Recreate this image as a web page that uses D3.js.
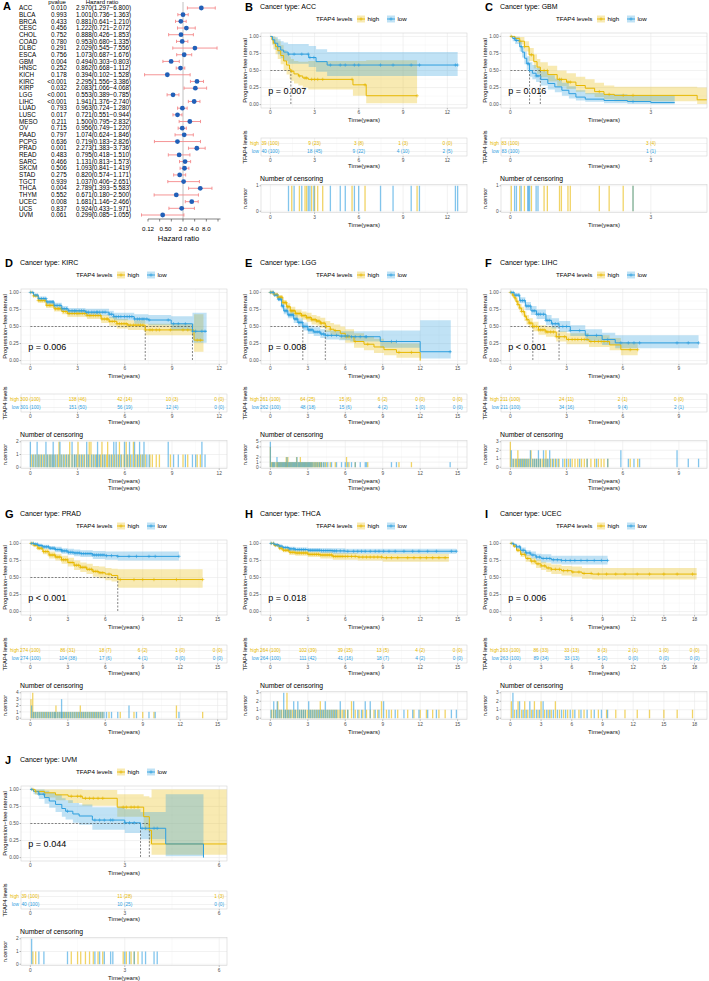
<!DOCTYPE html>
<html><head><meta charset="utf-8">
<script src="https://cdn.jsdelivr.net/npm/d3@7"></script>
<style>body{margin:0;background:#fff}</style>
</head><body>
<script>
// ---------------- DATA: Panel A (forest plot) ----------------
const forestCancers = ["ACC","BLCA","BRCA","CESC","CHOL","COAD","DLBC","ESCA","GBM","HNSC","KICH","KIRC","KIRP","LGG","LIHC","LUAD","LUSC","MESO","OV","PAAD","PCPG","PRAD","READ","SARC","SKCM","STAD","TGCT","THCA","THYM","UCEC","UCS","UVM"];
const forestP = ["0.010","0.993","0.433","0.456","0.752","0.780","0.291","0.756","0.004","0.252","0.178","<0.001","0.032","<0.001","<0.001","0.793","0.017","0.211","0.715","0.797","0.636","0.001","0.483","0.466","0.506","0.275","0.939","0.004","0.552","0.008","0.837","0.061"];
const forestHR = [2.970,1.001,0.881,1.222,0.888,0.953,2.029,1.073,0.494,0.862,0.394,2.295,2.083,0.553,1.941,0.963,0.721,1.500,0.956,1.074,0.719,2.273,0.795,1.131,1.093,0.820,1.037,2.789,0.671,1.681,0.924,0.299];
const forestLow = [1.297,0.736,0.641,0.721,0.426,0.680,0.545,0.687,0.303,0.668,0.102,1.556,1.066,0.389,1.376,0.724,0.551,0.795,0.749,0.624,0.183,1.383,0.418,0.813,0.841,0.574,0.406,1.393,0.180,1.146,0.433,0.085];
const forestHigh = [6.800,1.363,1.210,2.072,1.853,1.335,7.556,1.676,0.803,1.112,1.528,3.386,4.068,0.785,2.740,1.280,0.944,2.832,1.220,1.846,2.826,3.736,1.510,1.573,1.419,1.171,2.651,5.583,2.500,2.466,1.971,1.055];
const forestTicks = [0.125,0.25,0.5,1,2,4,8];
const forestTickLabels = ["0.12","0.50","2.0","4.0","8.0"];
const forestTickLabelAt = [0.125,0.354,1,2,4];

// ---------------- DATA: KM panels ----------------
// curve rows: [time, survival, lower CI, upper CI]; censor lists: one entry per censored subject
const accHigh = [[0,1,1,1],[0.1,0.95,0.88,1],[0.2,0.9,0.81,1],[0.35,0.85,0.74,0.97],[0.5,0.79,0.67,0.93],[0.7,0.72,0.59,0.87],[0.9,0.64,0.5,0.8],[1.1,0.58,0.44,0.75],[1.3,0.52,0.38,0.7],[1.39,0.49,0.35,0.67],[1.6,0.45,0.31,0.64],[1.9,0.42,0.28,0.63],[2.2,0.39,0.25,0.63],[2.57,0.37,0.22,0.64],[5.6,0.29,0.13,0.64],[6.5,0.13,0.02,0.65],[9.95,0.13,0.02,0.65]];
const accLow = [[0,1,1,1],[0.15,0.95,0.88,1],[0.3,0.9,0.8,0.99],[0.5,0.85,0.74,0.96],[0.7,0.8,0.68,0.93],[0.9,0.77,0.64,0.91],[1.2,0.74,0.6,0.89],[2.6,0.69,0.55,0.86],[3.1,0.63,0.48,0.81],[3.85,0.58,0.42,0.77],[12.7,0.58,0.42,0.77]];
const accHighCens = [1.45,1.97,2.35,2.46,2.8,3.0,3.21,3.55,5.54,6.42,9.95];
const accLowCens = [1.23,1.61,2.13,2.57,2.68,2.95,4.07,4.74,5.08,5.7,5.99,7.47,8.32,9.55,10.11,12.55,12.7];
const accRiskHigh = ["39 (100)","9 (23)","3 (8)","1 (3)","0 (0)"];
const accRiskLow = ["40 (100)","18 (45)","9 (22)","4 (10)","2 (5)"];

const gbmHigh = [[0,1,1,1],[0.1,0.97,0.94,1],[0.2,0.93,0.88,0.99],[0.3,0.85,0.78,0.93],[0.4,0.73,0.64,0.83],[0.5,0.63,0.53,0.74],[0.57,0.55,0.45,0.67],[0.64,0.5,0.4,0.62],[0.8,0.44,0.34,0.57],[1.0,0.37,0.27,0.5],[1.2,0.33,0.23,0.46],[1.4,0.28,0.19,0.41],[1.6,0.24,0.15,0.37],[1.8,0.19,0.11,0.32],[2.0,0.15,0.08,0.28],[2.22,0.135,0.05,0.26],[3.99,0.07,0.01,0.25],[4.3,0.07,0.01,0.25]];
const gbmLow = [[0,1,1,1],[0.05,0.97,0.93,1],[0.1,0.94,0.89,0.99],[0.2,0.85,0.78,0.93],[0.25,0.77,0.69,0.86],[0.3,0.68,0.59,0.78],[0.35,0.6,0.51,0.71],[0.41,0.5,0.41,0.62],[0.47,0.46,0.37,0.58],[0.55,0.42,0.33,0.54],[0.65,0.37,0.28,0.49],[0.8,0.31,0.22,0.43],[0.95,0.26,0.18,0.38],[1.1,0.21,0.13,0.32],[1.25,0.16,0.09,0.27],[1.4,0.11,0.06,0.21],[1.6,0.08,0.04,0.17],[2.0,0.06,0.02,0.15],[2.5,0.045,0.01,0.14],[3.0,0.03,0.005,0.14],[3.51,0.03,0.005,0.14]];
const gbmHighCens = [0.02,0.2,0.3,0.45,0.72,0.79,1.05,1.09,1.23,1.28,1.9,2.11,2.41,2.62];
const gbmLowCens = [0.09,0.13,0.23,0.37,0.39,0.41,0.55,0.59,2.62];
const gbmRiskHigh = ["83 (100)","3 (4)"];
const gbmRiskLow = ["83 (100)","1 (1)"];

const kircHigh = [[0,1,1,1],[0.2,0.95,0.93,0.97],[0.5,0.88,0.85,0.91],[1,0.81,0.77,0.85],[1.5,0.76,0.72,0.8],[2,0.72,0.68,0.77],[2.35,0.69,0.64,0.74],[3.6,0.66,0.61,0.71],[4.5,0.61,0.55,0.67],[5.0,0.576,0.51,0.64],[5.5,0.54,0.47,0.61],[6.2,0.52,0.45,0.59],[7.3,0.45,0.37,0.54],[10.4,0.3,0.13,0.68],[11.0,0.3,0.13,0.68]];
const kircLow = [[0,1,1,1],[0.2,0.96,0.94,0.98],[0.5,0.91,0.88,0.94],[1,0.86,0.82,0.89],[1.5,0.81,0.77,0.85],[2,0.76,0.72,0.8],[2.4,0.73,0.68,0.77],[3.5,0.71,0.66,0.76],[5.0,0.68,0.62,0.73],[5.3,0.645,0.59,0.7],[6.6,0.61,0.54,0.68],[7.5,0.595,0.52,0.67],[8.95,0.54,0.44,0.65],[10.3,0.43,0.26,0.7],[11.2,0.43,0.26,0.7]];
const kircHighCens = [0.05,0.2,0.35,0.5,0.62,0.75,0.9,1.05,1.2,1.3,1.45,1.6,1.75,1.82,1.82,1.95,2.1,2.25,2.4,2.5,2.5,2.65,2.8,2.95,3.03,3.03,3.15,3.3,3.45,3.6,3.74,3.74,3.85,3.85,4.0,4.15,4.3,4.45,4.55,4.55,4.7,4.85,4.91,4.91,5.05,5.2,5.35,5.5,5.66,5.66,5.8,5.95,6.09,6.09,6.2,6.35,6.55,6.55,6.7,6.85,7.0,7.15,7.3,7.6,7.75,8.0,8.2,8.9,9.7,10.0,10.6,10.8];
const kircLowCens = [0,0,0.15,0.3,0.43,0.43,0.55,0.7,0.85,0.99,0.99,1.1,1.25,1.38,1.45,1.45,1.55,1.7,1.88,1.88,2.0,2.15,2.3,2.45,2.65,2.65,2.8,2.9,3.1,3.25,3.4,3.58,3.58,3.7,3.9,4.05,4.2,4.27,4.27,4.4,4.6,4.75,5.0,5.15,5.3,5.3,5.45,5.45,5.6,5.75,5.98,5.98,6.15,6.3,6.3,6.45,6.62,6.62,6.8,6.94,6.94,7.1,7.22,7.22,7.4,7.55,8.76,8.76,9.1,9.4,9.85,10.3,10.5,10.9,10.9,11.1];
const kircRiskHigh = ["300 (100)","138 (46)","42 (14)","10 (3)","0 (0)"];
const kircRiskLow = ["301 (100)","151 (50)","56 (19)","12 (4)","0 (0)"];

const lggHigh = [[0,1,1,1],[0.3,0.97,0.95,0.99],[0.6,0.93,0.9,0.96],[1,0.85,0.81,0.89],[1.3,0.79,0.74,0.84],[1.6,0.73,0.68,0.79],[2,0.69,0.63,0.75],[2.5,0.66,0.6,0.72],[2.9,0.63,0.57,0.7],[3.3,0.6,0.53,0.67],[3.7,0.58,0.51,0.65],[4.0,0.55,0.48,0.63],[4.4,0.5,0.42,0.58],[4.8,0.46,0.38,0.55],[5.1,0.44,0.36,0.53],[5.6,0.4,0.31,0.5],[6.0,0.35,0.26,0.46],[6.7,0.28,0.19,0.4],[7.5,0.24,0.15,0.36],[8.3,0.2,0.11,0.32],[9.1,0.16,0.08,0.28],[10.1,0.12,0.04,0.25],[12.0,0,0,0]];
const lggLow = [[0,1,1,1],[0.3,0.96,0.94,0.98],[0.6,0.9,0.87,0.93],[0.9,0.8,0.76,0.84],[1.07,0.73,0.68,0.78],[1.4,0.67,0.62,0.72],[1.87,0.61,0.55,0.67],[2.2,0.56,0.5,0.62],[2.6,0.5,0.44,0.56],[3.0,0.45,0.39,0.51],[3.47,0.42,0.36,0.49],[4.0,0.39,0.33,0.46],[4.4,0.37,0.31,0.44],[5.5,0.36,0.3,0.43],[6.4,0.35,0.28,0.43],[8.8,0.28,0.19,0.44],[12.0,0.13,0.03,0.59],[14.45,0.13,0.03,0.59]];
const lggHighCens = [0,0,0,0,0.1,0.2,0.3,0.45,0.55,0.6,0.7,0.8,0.9,1.0,1.1,1.2,1.27,1.27,1.35,1.4,1.4,1.5,1.6,1.7,1.8,1.9,2.0,2.1,2.1,2.2,2.3,2.4,2.4,2.5,2.6,2.7,2.8,2.9,3.0,3.1,3.2,3.3,3.4,3.5,3.6,3.7,3.8,3.9,4.0,4.1,4.3,4.5,4.8,5.2,6.1,6.1,6.3,6.8,7.8,10.3,11.3];
const lggLowCens = [0,0,0,0,0,0.15,0.25,0.35,0.53,0.53,0.65,0.75,0.85,0.95,1.05,1.15,1.25,1.33,1.33,1.45,1.55,1.65,1.75,1.85,1.95,2.05,2.13,2.13,2.25,2.35,2.45,2.55,2.65,2.75,2.85,2.95,3.05,3.15,3.25,3.35,3.5,3.65,3.8,3.95,4.1,4.25,4.4,4.6,4.9,5.3,5.7,6.0,6.2,6.5,6.8,7.2,7.6,7.7,9.7,10.1,14.4];
const lggRiskHigh = ["261 (100)","64 (25)","15 (6)","6 (2)","0 (0)","0 (0)"];
const lggRiskLow = ["262 (100)","48 (18)","15 (6)","4 (2)","1 (0)","0 (0)"];

const lihcHigh = [[0,1,1,1],[0.1,0.96,0.93,0.99],[0.2,0.92,0.88,0.96],[0.3,0.87,0.82,0.92],[0.4,0.82,0.77,0.88],[0.5,0.77,0.71,0.83],[0.6,0.72,0.66,0.79],[0.75,0.65,0.58,0.72],[0.86,0.6,0.53,0.67],[1.0,0.55,0.48,0.62],[1.2,0.5,0.43,0.57],[1.5,0.45,0.38,0.52],[1.9,0.42,0.35,0.5],[2.45,0.35,0.28,0.43],[3.0,0.31,0.24,0.4],[4.2,0.28,0.2,0.37],[5.3,0.23,0.15,0.33],[5.9,0.16,0.08,0.27],[6.8,0.16,0.08,0.27]];
const lihcLow = [[0,1,1,1],[0.2,0.96,0.93,0.99],[0.5,0.88,0.84,0.93],[0.8,0.8,0.74,0.86],[1.1,0.73,0.67,0.8],[1.4,0.68,0.61,0.75],[1.9,0.59,0.52,0.67],[2.2,0.54,0.47,0.62],[2.6,0.5,0.42,0.58],[3.2,0.44,0.36,0.52],[4.0,0.37,0.29,0.46],[4.9,0.31,0.23,0.41],[5.6,0.26,0.18,0.37],[10.05,0.26,0.18,0.37]];
const lihcHighCens = [0,0,0,0.15,0.25,0.35,0.4,0.4,0.5,0.6,0.7,0.8,0.9,1.0,1.1,1.1,1.2,1.3,1.4,1.5,1.6,1.7,1.8,1.9,1.9,2.0,2.15,2.3,2.45,2.6,2.9,3.1,3.3,3.45,3.6,3.8,3.95,4.1,4.3,4.5,4.7,4.85,5.0,5.2,6.4,6.8];
const lihcLowCens = [0.05,0.05,0.15,0.3,0.45,0.55,0.65,0.75,0.85,0.95,1.07,1.07,1.2,1.3,1.4,1.5,1.5,1.6,1.77,1.77,1.9,2.0,2.1,2.1,2.25,2.4,2.55,2.8,3.0,3.2,3.7,4.1,4.6,5.2,5.9,5.9,6.3,6.6,6.9,8.9,8.9,9.5,10.05];
const lihcRiskHigh = ["211 (100)","24 (11)","2 (1)","0 (0)"];
const lihcRiskLow = ["211 (100)","34 (16)","9 (4)","2 (1)"];

const pradHigh = [[0,1,1,1],[0.3,0.97,0.95,0.99],[0.6,0.93,0.9,0.96],[1,0.88,0.84,0.92],[1.5,0.83,0.78,0.88],[2,0.8,0.75,0.85],[2.5,0.76,0.7,0.82],[3,0.72,0.66,0.79],[3.5,0.68,0.61,0.75],[4,0.65,0.58,0.72],[4.5,0.62,0.55,0.7],[5,0.59,0.51,0.67],[5.5,0.57,0.49,0.66],[6,0.55,0.46,0.64],[6.5,0.53,0.44,0.63],[7.0,0.47,0.35,0.62],[13.8,0.47,0.35,0.62]];
const pradLow = [[0,1,1,1],[0.3,0.99,0.98,1],[0.6,0.97,0.95,0.99],[1,0.95,0.92,0.98],[1.5,0.93,0.9,0.96],[2,0.91,0.87,0.95],[2.5,0.89,0.85,0.93],[3,0.87,0.83,0.92],[3.5,0.86,0.81,0.91],[4,0.85,0.8,0.9],[5,0.83,0.77,0.89],[6,0.82,0.76,0.88],[7,0.81,0.75,0.88],[11.9,0.81,0.75,0.88]];
const pradHighCens = [0.05,0.05,0.05,0.19,0.19,0.19,0.19,0.3,0.45,0.6,0.75,0.9,1.05,1.2,1.35,1.5,1.65,1.8,1.95,2.05,2.05,2.2,2.35,2.5,2.65,2.8,2.95,3.1,3.25,3.4,3.55,3.7,3.85,4.0,4.0,4.15,4.3,4.45,4.6,4.75,4.9,5.05,5.2,5.35,5.5,5.65,5.8,6.3,7.2,8.3,9.0,9.9,11.7,11.7,13.8];
const pradLowCens = [0.1,0.1,0.25,0.4,0.55,0.7,0.85,1.0,1.15,1.3,1.45,1.6,1.75,1.9,2.0,2.15,2.3,2.45,2.5,2.5,2.5,2.6,2.75,2.9,3.05,3.2,3.35,3.5,3.65,3.8,3.95,4.1,4.25,4.4,4.55,4.7,4.85,5.0,5.15,5.3,5.45,5.6,5.75,5.9,6.1,6.5,7.0,7.9,7.9,8.5,9.5,10.0,11.9];
const pradRiskHigh = ["274 (100)","86 (31)","18 (7)","6 (2)","1 (0)","0 (0)"];
const pradRiskLow = ["274 (100)","104 (38)","17 (6)","4 (1)","0 (0)","0 (0)"];

const thcaHigh = [[0,1,1,1],[0.3,0.97,0.95,0.99],[0.7,0.93,0.9,0.96],[1,0.9,0.87,0.93],[1.5,0.87,0.83,0.91],[2,0.86,0.82,0.9],[3,0.84,0.8,0.88],[4,0.83,0.78,0.87],[5,0.81,0.76,0.86],[7,0.8,0.75,0.85],[9,0.79,0.73,0.85],[14.3,0.79,0.73,0.85]];
const thcaLow = [[0,1,1,1],[0.3,0.98,0.97,0.99],[0.7,0.96,0.94,0.98],[1,0.94,0.92,0.96],[1.5,0.92,0.89,0.95],[2,0.91,0.88,0.94],[3,0.9,0.87,0.93],[4,0.895,0.86,0.93],[5,0.89,0.85,0.93],[6,0.885,0.85,0.92],[14.9,0.885,0.85,0.92]];
const thcaHighCens = [0.1,0.25,0.4,0.6,0.6,0.75,0.9,1.05,1.2,1.33,1.33,1.33,1.45,1.6,1.75,1.9,2.05,2.2,2.35,2.5,2.65,2.8,2.95,3.1,3.25,3.4,3.55,3.7,3.85,4.0,4.0,4.15,4.3,4.45,4.6,4.75,4.9,5.05,5.2,5.35,5.5,5.65,5.8,6.0,6.2,6.5,6.5,6.8,7.1,7.4,7.7,8.0,8.3,8.6,8.9,8.9,9.3,9.7,10.2,11.0,11.5,12.0,12.5,13.0,13.5,14.0];
const thcaLowCens = [0.05,0.27,0.27,0.45,0.55,0.55,0.7,0.85,1.07,1.07,1.07,1.2,1.35,1.5,1.65,1.87,1.87,2.0,2.2,2.2,2.35,2.5,2.65,2.8,3.07,3.07,3.2,3.35,3.5,3.65,3.8,3.95,4.1,4.25,4.4,4.4,4.55,4.7,4.85,5.0,5.15,5.3,5.6,5.6,5.9,6.2,6.67,6.67,7.0,7.3,7.6,7.6,8.0,8.0,8.4,8.7,9.07,9.07,9.5,10.0,10.7,11.4,11.9,12.6,13.3,14.5,14.9];
const thcaRiskHigh = ["264 (100)","102 (39)","39 (15)","13 (5)","4 (2)","0 (0)"];
const thcaRiskLow = ["264 (100)","111 (42)","41 (16)","18 (7)","4 (2)","0 (0)"];

const ucecHigh = [[0,1,1,1],[0.3,0.96,0.94,0.98],[0.6,0.9,0.87,0.93],[1,0.84,0.8,0.88],[1.5,0.78,0.73,0.83],[2,0.74,0.69,0.79],[2.5,0.7,0.64,0.76],[3,0.67,0.61,0.73],[3.5,0.64,0.58,0.71],[4,0.62,0.55,0.69],[5,0.6,0.53,0.67],[6,0.58,0.51,0.66],[7,0.56,0.48,0.64],[8,0.55,0.47,0.64],[18.2,0.55,0.47,0.64]];
const ucecLow = [[0,1,1,1],[0.3,0.98,0.96,1],[0.6,0.95,0.92,0.98],[1,0.9,0.86,0.94],[1.5,0.86,0.82,0.9],[2,0.83,0.78,0.88],[2.5,0.8,0.75,0.85],[3,0.78,0.72,0.84],[4,0.76,0.7,0.82],[5,0.75,0.69,0.82],[9.5,0.75,0.69,0.82]];
const ucecHighCens = [0.1,0.1,0.4,0.75,0.75,1.1,1.4,1.4,1.7,2.05,2.35,2.35,2.7,3.0,3.0,3.35,3.7,4.0,4.4,4.4,4.8,5.2,5.6,6.1,6.7,7.2,7.9,8.6,9.4,10.3,11.2,12.4,13.6,15.0,16.3,17.8];
const ucecLowCens = [0.25,0.25,0.25,0.6,0.9,0.9,1.25,1.55,1.9,1.9,2.2,2.55,2.85,3.2,3.2,3.55,3.85,4.2,4.6,5.0,5.4,5.85,6.3,6.9,7.5,8.2,8.9,9.5];
const ucecRiskHigh = ["263 (100)","86 (33)","33 (13)","8 (3)","2 (1)","1 (0)","0 (0)"];
const ucecRiskLow = ["263 (100)","89 (34)","33 (13)","5 (2)","0 (0)","0 (0)","0 (0)"];

const uvmHigh = [[0,1,1,1],[0.15,0.97,0.92,1],[0.45,0.95,0.88,1],[0.8,0.92,0.84,1],[1.2,0.9,0.8,1],[1.65,0.87,0.76,0.99],[2.76,0.74,0.6,0.93],[3.6,0.6,0.4,0.9],[3.78,0.4,0.18,0.88],[3.85,0.2,0.04,1],[6.3,0.2,0.04,1]];
const uvmLow = [[0,1,1,1],[0.1,0.97,0.93,1],[0.27,0.93,0.86,1],[0.45,0.88,0.79,0.98],[0.6,0.83,0.73,0.95],[0.8,0.78,0.67,0.92],[1.0,0.72,0.6,0.87],[1.12,0.68,0.56,0.84],[1.35,0.64,0.51,0.8],[1.55,0.61,0.48,0.78],[1.97,0.55,0.41,0.74],[3.0,0.51,0.36,0.71],[3.5,0.43,0.27,0.67],[4.3,0.2,0.02,0.93],[5.5,0,0,0]];
const uvmHighCens = [0.08,0.17,1.3,1.5,1.6,1.75,1.88,2.0,2.15,2.3,2.95,3.05,3.2,3.3,3.42];
const uvmLowCens = [0.04,0.04,0.27,0.43,1.18,2.05,2.2,2.35,2.55,2.62,3.0,3.15,3.3,3.55,3.66,3.93,4.03];
const uvmRiskHigh = ["39 (100)","11 (28)","1 (3)"];
const uvmRiskLow = ["40 (100)","10 (25)","0 (0)"];

const panelLetters = ["B","C","D","E","F","G","H","I","J"];
const panelCancers = ["ACC","GBM","KIRC","LGG","LIHC","PRAD","THCA","UCEC","UVM"];
const panelPvalues = ["p = 0.007","p = 0.016","p = 0.006","p = 0.008","p < 0.001","p < 0.001","p = 0.018","p = 0.006","p = 0.044"];
const panelTmax = [12.7,4.0,11.9,15,10,15,15,18.3,5.95];
const groupLabels = ["high","low"];

// ---------------- DRAWING ----------------
const HIGH = "#E7B800", LOW = "#2E9FDF";
const FONT = "'Liberation Sans', Arial, Helvetica, sans-serif";
const TICKC = "#4D4D4D";
const svg = d3.select("body").append("svg").attr("width",709).attr("height",981)
  .style("font-family",FONT).style("background","#fff");

function txt(g,x,y,s,size,o={}){
  return g.append("text").attr("x",x).attr("y",y).attr("font-size",size)
    .attr("fill",o.fill||"#000").attr("text-anchor",o.anchor||"start")
    .attr("font-weight",o.weight||"normal").text(s);
}
function vtxt(g,x,y,s,size){
  return g.append("text").attr("transform",`translate(${x},${y}) rotate(-90)`)
    .attr("text-anchor","middle").attr("font-size",size).attr("fill","#000").text(s);
}

// ---- Panel A ----
(function(){
  const g = svg.append("g");
  txt(g,3,10,"A",11,{weight:"bold"});
  const fx = d3.scaleLog().base(2).domain([0.125,8]).range([148,218]);
  const fy = d3.scalePoint().domain(forestCancers).range([8,215]);
  txt(g,57,4.2,"pvalue",6,{anchor:"middle"});
  txt(g,102,4.2,"Hazard ratio",6,{anchor:"middle"});
  g.append("line").attr("x1",fx(1)).attr("x2",fx(1)).attr("y1",2).attr("y2",219)
    .attr("stroke","#B0B0B0").attr("stroke-width",0.8);
  forestCancers.forEach((c,i)=>{
    const yy = fy(c);
    txt(g,19,yy+2.2,c,6.3);
    txt(g,66.7,yy+2.2,forestP[i],6.3,{anchor:"end"});
    txt(g,76,yy+2.2,`${forestHR[i].toFixed(3)}(${forestLow[i].toFixed(3)}\u2212${forestHigh[i].toFixed(3)})`,6.3);
    const col="#F4898A";
    g.append("line").attr("x1",fx(forestLow[i])).attr("x2",fx(forestHigh[i])).attr("y1",yy).attr("y2",yy).attr("stroke",col).attr("stroke-width",0.9);
    [forestLow[i],forestHigh[i]].forEach(v=>g.append("line").attr("x1",fx(v)).attr("x2",fx(v)).attr("y1",yy-1.6).attr("y2",yy+1.6).attr("stroke",col).attr("stroke-width",0.9));
    g.append("circle").attr("cx",fx(forestHR[i])).attr("cy",yy).attr("r",2.4).attr("fill","#2160B8");
  });
  const ay = 219;
  g.append("line").attr("x1",fx(0.125)).attr("x2",fx(8)+2.5).attr("y1",ay).attr("y2",ay).attr("stroke","#333").attr("stroke-width",0.6);
  forestTicks.forEach(t=>g.append("line").attr("x1",fx(t)).attr("x2",fx(t)).attr("y1",ay).attr("y2",ay+2.5).attr("stroke","#333").attr("stroke-width",0.6));
  forestTickLabels.forEach((l,i)=>txt(g,fx(forestTickLabelAt[i]),231,l,6.2,{anchor:"middle"}));
  txt(g,178.5,240.5,"Hazard ratio",7.6,{anchor:"middle"});
})();

// ---- grid helper ----
function panelGrid(g,x,y,L,R,T,B,xt,yt){
  const mids = (ticks,dom)=>{
    const st = ticks.length>1 ? ticks[1]-ticks[0] : 1;
    const ext = [ticks[0]-st, ...ticks, ticks[ticks.length-1]+st];
    return ext.slice(0,-1).map((v,i)=>(v+ext[i+1])/2).filter(v=>v>=dom[0]&&v<=dom[1]);
  };
  g.append("rect").attr("x",L).attr("y",T).attr("width",R-L).attr("height",B-T).attr("fill","#fff");
  if(xt) mids(xt,x.domain()).forEach(v=>g.append("line").attr("x1",x(v)).attr("x2",x(v)).attr("y1",T).attr("y2",B).attr("stroke","#F3F3F3").attr("stroke-width",0.4));
  if(yt&&y) mids(yt,y.domain()).forEach(v=>g.append("line").attr("x1",L).attr("x2",R).attr("y1",y(v)).attr("y2",y(v)).attr("stroke","#F3F3F3").attr("stroke-width",0.4));
  if(xt) xt.forEach(v=>g.append("line").attr("x1",x(v)).attr("x2",x(v)).attr("y1",T).attr("y2",B).attr("stroke","#EAEAEA").attr("stroke-width",0.6));
  if(yt&&y) yt.forEach(v=>g.append("line").attr("x1",L).attr("x2",R).attr("y1",y(v)).attr("y2",y(v)).attr("stroke","#EAEAEA").attr("stroke-width",0.6));
}
function panelBorder(g,L,R,T,B){
  g.append("rect").attr("x",L).attr("y",T).attr("width",R-L).attr("height",B-T).attr("fill","none").attr("stroke","#D4D4D4").attr("stroke-width",0.6);
}
function xAxis(g,x,xt,yb){
  xt.forEach(v=>{
    g.append("line").attr("x1",x(v)).attr("x2",x(v)).attr("y1",yb).attr("y2",yb+1.5).attr("stroke","#555").attr("stroke-width",0.4);
    txt(g,x(v),yb+6.3,d3.format("d")(v),4.8,{anchor:"middle",fill:TICKC});
  });
}
function plus(g,cx,cy,c){
  g.append("path").attr("d",`M${cx-1.7},${cy}h3.4M${cx},${cy-1.7}v3.4`).attr("stroke",c).attr("stroke-width",0.6).attr("fill","none");
}
const survAt = (curve,t)=>{ let s=curve[0][1]; for(const d of curve){ if(d[0]<=t) s=d[1]; else break;} return s; };

let clipId = 0;
function drawKM(p,ox,oy,extraLabel){
  const g = svg.append("g").attr("transform",`translate(${ox},${oy})`);
  const L=21,R=227,T=33,B=108;
  const dom=[-0.05*p.tMax,1.05*p.tMax];
  const x=d3.scaleLinear().domain(dom).range([L,R]);
  const y=d3.scaleLinear().domain([-0.05,1.05]).range([B,T]);
  const xt=d3.range(0,dom[1]+1e-9,3);
  const yt=[0,0.25,0.5,0.75,1];
  const groups=[{c:HIGH,curve:p.high,cens:p.hc,risk:p.rh,lab:groupLabels[0]},{c:LOW,curve:p.low,cens:p.lc,risk:p.rl,lab:groupLabels[1]}];

  txt(g,5,10.5,p.letter,11,{weight:"bold"});
  txt(g,20,9,"Cancer type: "+p.cancer,7);
  txt(g,76,21.3,"TFAP4 levels",6.2);
  [[117,HIGH,groupLabels[0],127.5],[147,LOW,groupLabels[1],157.5]].forEach(([kx,c,lab,tx])=>{
    g.append("rect").attr("x",kx).attr("y",15.5).attr("width",8).attr("height",7).attr("fill",c).attr("fill-opacity",0.3);
    g.append("line").attr("x1",kx).attr("x2",kx+8).attr("y1",19).attr("y2",19).attr("stroke",c).attr("stroke-width",0.9);
    plus(g,kx+4,19,c);
    txt(g,tx,21.3,lab,6.2);
  });

  panelGrid(g,x,y,L,R,T,B,xt,yt);
  const cid="clip"+(clipId++);
  g.append("clipPath").attr("id",cid).append("rect").attr("x",L).attr("y",T).attr("width",R-L).attr("height",B-T);
  const pg=g.append("g").attr("clip-path",`url(#${cid})`);
  const area=d3.area().x(d=>x(d[0])).y0(d=>y(d[2])).y1(d=>y(d[3])).curve(d3.curveStepAfter);
  const line=d3.line().x(d=>x(d[0])).y(d=>y(d[1])).curve(d3.curveStepAfter);
  groups.forEach(gr=>pg.append("path").attr("d",area(gr.curve)).attr("fill",gr.c).attr("fill-opacity",0.3));
  const meds=groups.map(gr=>{const f=gr.curve.find(d=>d[1]<=0.5); return f?f[0]:null;}).filter(v=>v!==null);
  if(meds.length){
    pg.append("line").attr("x1",x(0)).attr("x2",x(d3.max(meds))).attr("y1",y(0.5)).attr("y2",y(0.5))
      .attr("stroke","#333").attr("stroke-width",0.6).attr("stroke-dasharray","2,1.5");
    meds.forEach(m=>pg.append("line").attr("x1",x(m)).attr("x2",x(m)).attr("y1",y(0.5)).attr("y2",y(0))
      .attr("stroke","#333").attr("stroke-width",0.6).attr("stroke-dasharray","2,1.5"));
  }
  groups.forEach(gr=>pg.append("path").attr("d",line(gr.curve)).attr("fill","none").attr("stroke",gr.c).attr("stroke-width",1));
  groups.forEach(gr=>{
    Array.from(new Set(gr.cens)).forEach(t=>plus(pg,x(t),y(survAt(gr.curve,t)),gr.c));
  });
  txt(g,x(0)-2,y(0.2)+3.2,p.pval,9);
  panelBorder(g,L,R,T,B);
  yt.forEach(v=>{
    g.append("line").attr("x1",L-1.5).attr("x2",L).attr("y1",y(v)).attr("y2",y(v)).attr("stroke","#555").attr("stroke-width",0.4);
    txt(g,L-2.3,y(v)+1.7,d3.format(".2f")(v),4.8,{anchor:"end",fill:TICKC});
  });
  xAxis(g,x,xt,B);
  txt(g,(L+R)/2,122.2,"Time(years)",6,{anchor:"middle",fill:"#111"});
  vtxt(g,6.8,(T+B)/2,"Progression\u2212free interval",5.8);

  // risk table
  const RT=138,RB=156;
  panelGrid(g,x,null,L,R,RT,RB,xt,null);
  const ry=[143.5,151.5];
  ry.forEach(v=>g.append("line").attr("x1",L).attr("x2",R).attr("y1",v).attr("y2",v).attr("stroke","#EAEAEA").attr("stroke-width",0.6));
  panelBorder(g,L,R,RT,RB);
  groups.forEach((gr,i)=>{
    txt(g,L-2,ry[i]+1.7,gr.lab,4.8,{anchor:"end",fill:gr.c});
    gr.risk.forEach((r,j)=>txt(g,x(xt[j]),ry[i]+1.7,r,4.8,{anchor:"middle",fill:gr.c}));
  });
  xAxis(g,x,xt,RB);
  txt(g,(L+R)/2,168.3,"Time(years)",6,{anchor:"middle",fill:"#111"});
  vtxt(g,6.5,147,"TFAP4 levels",5.6);

  // censoring plot
  txt(g,20,180.8,"Number of censoring",6.8);
  const CT=184.5,CB=212.5;
  const counts=groups.map(gr=>d3.rollups(gr.cens,v=>v.length,d=>d));
  const cmax=d3.max(counts.flat(),d=>d[1]);
  const cy=d3.scaleLinear().domain([-0.05*cmax,1.05*cmax]).range([CB,CT]);
  const cticks=Array.from(new Set([0,...counts.flat().map(d=>d[1])])).sort((a,b)=>a-b);
  panelGrid(g,x,cy,L,R,CT,CB,xt,null);
  cticks.forEach(v=>g.append("line").attr("x1",L).attr("x2",R).attr("y1",cy(v)).attr("y2",cy(v)).attr("stroke","#EAEAEA").attr("stroke-width",0.6));
  g.append("clipPath").attr("id",cid+"b").append("rect").attr("x",L).attr("y",CT).attr("width",R-L).attr("height",CB-CT);
  const cg=g.append("g").attr("clip-path",`url(#${cid}b)`);
  counts.forEach((cs,i)=>{
    cs.forEach(([t,n])=>cg.append("rect").attr("x",x(t)-0.65).attr("width",1.3).attr("y",cy(n)).attr("height",cy(0)-cy(n))
      .attr("fill",groups[i].c).attr("fill-opacity",0.6));
  });
  panelBorder(g,L,R,CT,CB);
  cticks.forEach(v=>{
    g.append("line").attr("x1",L-1.5).attr("x2",L).attr("y1",cy(v)).attr("y2",cy(v)).attr("stroke","#555").attr("stroke-width",0.4);
    txt(g,L-2.3,cy(v)+1.7,String(v),4.8,{anchor:"end",fill:TICKC});
  });
  xAxis(g,x,xt,CB);
  txt(g,(L+R)/2,226.8,"Time(years)",6,{anchor:"middle",fill:"#111"});
  if(extraLabel) txt(g,(L+R)/2,234.3,"Time(years)",6,{anchor:"middle",fill:"#111"});
  vtxt(g,7,198.5,"n.censor",5.6);
}

const curvesHigh=[accHigh,gbmHigh,kircHigh,lggHigh,lihcHigh,pradHigh,thcaHigh,ucecHigh,uvmHigh];
const curvesLow=[accLow,gbmLow,kircLow,lggLow,lihcLow,pradLow,thcaLow,ucecLow,uvmLow];
const censHigh=[accHighCens,gbmHighCens,kircHighCens,lggHighCens,lihcHighCens,pradHighCens,thcaHighCens,ucecHighCens,uvmHighCens];
const censLow=[accLowCens,gbmLowCens,kircLowCens,lggLowCens,lihcLowCens,pradLowCens,thcaLowCens,ucecLowCens,uvmLowCens];
const riskHigh=[accRiskHigh,gbmRiskHigh,kircRiskHigh,lggRiskHigh,lihcRiskHigh,pradRiskHigh,thcaRiskHigh,ucecRiskHigh,uvmRiskHigh];
const riskLow=[accRiskLow,gbmRiskLow,kircRiskLow,lggRiskLow,lihcRiskLow,pradRiskLow,thcaRiskLow,ucecRiskLow,uvmRiskLow];

const colX=[0,240,480], rowY=[0,256,507,753];
const layout=[[1,0],[2,0],[0,1],[1,1],[2,1],[0,2],[1,2],[2,2],[0,3]];
panelLetters.forEach((L,i)=>{
  const p={letter:L,cancer:panelCancers[i],pval:panelPvalues[i],tMax:panelTmax[i],
    high:curvesHigh[i],low:curvesLow[i],hc:censHigh[i],lc:censLow[i],rh:riskHigh[i],rl:riskLow[i]};
  drawKM(p,colX[layout[i][0]],rowY[layout[i][1]],layout[i][1]===1);
});
</script>
</body></html>
